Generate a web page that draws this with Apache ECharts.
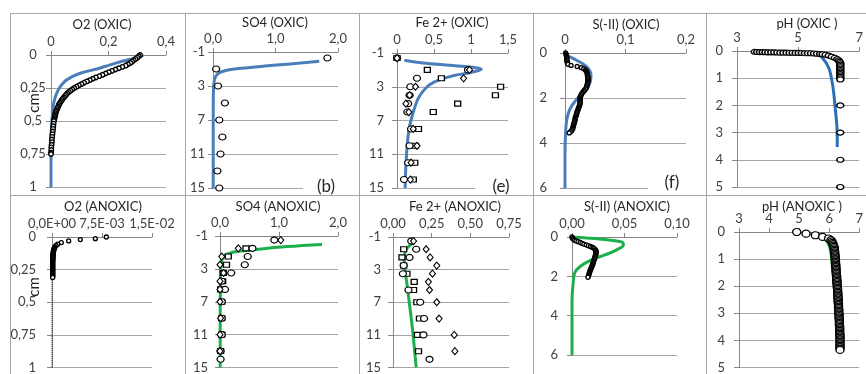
<!DOCTYPE html>
<html><head><meta charset="utf-8">
<script src="https://cdn.jsdelivr.net/npm/echarts@6/dist/echarts.min.js"></script>
<style>html,body{margin:0;padding:0;background:#fff}#c{width:866px;height:374px}</style>
</head><body><div id="c"></div>
<script>
// ---------------- DATA ([depth cm, value] pairs or depth/value lists) ----------------
// Panel O2 OXIC
const o2OxicMeasured = [[0,0.310],[0.01,0.305],[0.02,0.300],[0.03,0.294],[0.04,0.288],[0.05,0.282],[0.06,0.276],[0.07,0.268],[0.08,0.260],[0.09,0.248],[0.10,0.236],[0.11,0.224],[0.12,0.212],[0.13,0.201],[0.14,0.190],[0.15,0.179],[0.16,0.168],[0.17,0.156],[0.18,0.145],[0.19,0.135],[0.20,0.125],[0.21,0.115],[0.22,0.106],[0.23,0.097],[0.24,0.089],[0.25,0.081],[0.26,0.074],[0.27,0.068],[0.28,0.062],[0.29,0.057],[0.30,0.053],[0.31,0.049],[0.32,0.045],[0.33,0.041],[0.34,0.038],[0.35,0.035],[0.36,0.032],[0.37,0.029],[0.38,0.027],[0.39,0.025],[0.40,0.023],[0.41,0.021],[0.42,0.019],[0.43,0.0175],[0.44,0.016],[0.45,0.015],[0.46,0.014],[0.47,0.013],[0.48,0.012],[0.49,0.011],[0.50,0.010],[0.52,0.009],[0.54,0.008],[0.56,0.007],[0.58,0.006],[0.60,0.005],[0.62,0.004],[0.64,0.003],[0.66,0.003],[0.68,0.002],[0.70,0.001],[0.72,0.001],[0.74,0.000],[0.75,0.000]];
const o2OxicModel = [[0,0.322],[0.02,0.300],[0.04,0.262],[0.06,0.228],[0.08,0.198],[0.10,0.168],[0.12,0.132],[0.14,0.100],[0.16,0.077],[0.18,0.061],[0.20,0.048],[0.25,0.029],[0.30,0.018],[0.35,0.011],[0.40,0.007],[0.50,0.003],[0.60,0.001],[0.80,0],[1.00,0]];
// Panel (b) SO4 OXIC
const so4OxicDepth = [-0.3,1,3,5,7,9,11,13,15];
const so4OxicMeasured = [1.83,0.05,0.08,0.19,0.10,0.15,0.12,0.07,0.10];
const so4OxicModel = [[0.1,1.70],[0.3,1.40],[0.5,1.07],[0.7,0.76],[0.9,0.47],[1.1,0.26],[1.3,0.15],[1.5,0.09],[1.75,0.055],[2,0.035],[2.5,0.018],[3,0.01],[5,0.004],[15,0.003]];
// Panel (e) Fe2+ OXIC
const feOxicDepth = [-0.4,1,2,3,4,5,6,8,10,12,14];
const feOxicCircle = [0,0.96,0.27,0.18,0.17,0.15,0.14,0.19,0.17,0.15,0.095];
const feOxicDiamond = [0,0.98,0.90,0.25,0.17,0.12,0.16,0.22,0.27,0.19,0.18];
const feOxicSquare = [0,0.41,0.60,1.40,1.33,0.82,0.49,0.29,0.25,0.24,0.22];
const feOxicModel = [[-0.13,0.10],[0.19,0.35],[0.46,0.71],[0.70,1.03],[0.90,1.14],[1.10,1.09],[1.37,0.96],[1.69,0.76],[2.16,0.58],[2.75,0.44],[3.55,0.35],[4.5,0.28],[5.7,0.23],[7.7,0.17],[9.7,0.14],[12.4,0.12],[15,0.11]];
// Panel (f) S(-II) OXIC
const sOxicMeasured = [[0,0.001],[0.05,0.002],[0.10,0.002],[0.15,0.003],[0.20,0.003],[0.25,0.003],[0.30,0.003],[0.35,0.003],[0.40,0.004],[0.45,0.004],[0.50,0.005],[0.55,0.010],[0.60,0.020],[0.65,0.027],[0.70,0.031],[0.75,0.034],[0.80,0.035],[0.85,0.036],[0.90,0.037],[0.95,0.037],[1.00,0.037],[1.05,0.038],[1.10,0.038],[1.15,0.038],[1.20,0.038],[1.25,0.038],[1.30,0.038],[1.35,0.037],[1.40,0.037],[1.45,0.036],[1.50,0.036],[1.55,0.035],[1.60,0.034],[1.65,0.032],[1.70,0.031],[1.75,0.029],[1.80,0.028],[1.85,0.027],[1.90,0.026],[1.95,0.025],[2.00,0.025],[2.05,0.025],[2.10,0.025],[2.15,0.025],[2.20,0.025],[2.25,0.025],[2.30,0.024],[2.35,0.024],[2.40,0.023],[2.45,0.022],[2.50,0.022],[2.55,0.021],[2.60,0.020],[2.65,0.020],[2.70,0.019],[2.75,0.019],[2.80,0.018],[2.85,0.017],[2.90,0.017],[2.95,0.017],[3.00,0.016],[3.05,0.016],[3.10,0.015],[3.15,0.015],[3.20,0.014],[3.25,0.014],[3.30,0.013],[3.35,0.013],[3.40,0.012],[3.45,0.011],[3.50,0.009],[3.55,0.007]];
const sOxicModel = [[0,0],[0.1,0.003],[0.32,0.019],[0.61,0.036],[0.98,0.043],[1.34,0.041],[1.7,0.033],[2.07,0.019],[2.5,0.008],[2.95,0.003],[3.53,0.001],[4.5,0],[6,0]];
// Panel pH OXIC
const phOxicMeasured = [[0.03,3.58],[0.035,3.66],[0.04,3.75],[0.04,3.84],[0.045,3.93],[0.05,4.02],[0.05,4.12],[0.05,4.22],[0.055,4.32],[0.06,4.42],[0.06,4.52],[0.06,4.62],[0.065,4.72],[0.065,4.82],[0.07,4.92],[0.07,5.02],[0.075,5.12],[0.08,5.22],[0.08,5.32],[0.085,5.42],[0.09,5.52],[0.10,5.62],[0.11,5.72],[0.12,5.8],[0.14,5.9],[0.17,6.0],[0.21,6.1],[0.25,6.2],[0.30,6.28],[0.35,6.33],[0.40,6.36],[0.45,6.38],[0.50,6.38],[0.55,6.38],[0.60,6.38],[0.65,6.38],[0.70,6.38],[0.75,6.38],[0.80,6.38],[0.85,6.38],[0.90,6.38],[0.95,6.38],[1.00,6.38],[1.05,6.38],[2,6.38],[3,6.38],[4,6.38],[5,6.38]];
const phOxicModel = [[0.1,5.55],[0.2,5.75],[0.32,5.84],[0.5,5.95],[0.71,6.03],[1.0,6.09],[1.32,6.14],[1.7,6.18],[2.06,6.21],[2.5,6.25],[2.8,6.27],[3.2,6.28],[3.53,6.28]];
// Panel O2 ANOXIC
const o2AnoxMeasured = [[0,0.00815],[0.0125,0.0065],[0.02,0.00425],[0.03,0.0025],[0.0425,0.0014],[0.055,0.00085],[0.065,0.0006],[0.075,0.00045],[0.08,0.0004],[0.085,0.00035],[0.09,0.0003],[0.095,0.0003],[0.10,0.00025],[0.105,0.00025],[0.11,0.0002],[0.115,0.0002],[0.12,0.0002],[0.125,0.0002],[0.13,0.00015],[0.135,0.00015],[0.14,0.00015],[0.145,0.00015],[0.15,0.00015],[0.155,0.00015],[0.16,0.00012],[0.165,0.00012],[0.17,0.00012],[0.175,0.00012],[0.18,0.0001],[0.185,0.0001],[0.19,0.0001],[0.195,0.0001],[0.20,0.0001],[0.205,0.0001],[0.21,0.0001],[0.215,0.0001],[0.22,0.0001],[0.225,0.0001],[0.23,0.0001],[0.235,0.0001],[0.24,0.0001],[0.245,0.0001],[0.25,0.0001],[0.255,0.0001],[0.26,0.0001],[0.265,0.0001],[0.27,0.0001],[0.275,0.0001],[0.28,0.0001],[0.285,0.0001],[0.29,0.0001],[0.295,0.0001],[0.30,0.0001],[0.305,0.0001],[0.31,0.0001]];
const o2AnoxModel = [[0.3,0],[1,0]];
// Panel SO4 ANOXIC
const so4AnoxDepth = [-0.5,0.5,1.5,2.5,3.5,4.5,5.5,7,9,11,13,14];
const so4AnoxCircle = [0.92,0.55,0.47,0.42,0.19,0.03,0.085,0.03,0.03,0.03,0.01,0.01];
const so4AnoxDiamond = [1.03,0.31,0.03,0.0,0.06,0.0,0.0,0.0,0.01,0.0,0.0,null];
const so4AnoxSquare = [null,0.44,0.14,0.11,0.056,0.045,0.01,0.03,0.03,0.03,0.01,null];
const so4AnoxModel = [[0.02,1.73],[0.29,1.13],[0.69,0.56],[0.88,0.28],[1.16,0.14],[1.47,0.056],[2.06,0.028],[3.24,0.011],[6,0.005],[10,0.003],[15,0.003]];
// Panel Fe2+ ANOXIC
const feAnoxDepth = [-0.5,0.5,1.5,2.5,3.5,4.5,5.5,7,9,11,13,14];
const feAnoxCircle = [0.118,0.15,0.107,0.069,0.064,null,0.10,0.176,0.201,0.197,null,0.236];
const feAnoxDiamond = [0.133,0.214,0.24,0.283,0.255,0.229,0.236,0.283,0.298,0.396,0.40,null];
const feAnoxSquare = [null,0.069,0.058,0.069,0.09,0.137,0.133,0.154,0.171,0.158,0.165,null];
const feAnoxModel = [[-0.6,0.143],[-0.41,0.137],[0.19,0.10],[0.78,0.079],[1.96,0.073],[4.73,0.09],[7.9,0.111],[10.66,0.128],[15,0.15]];
// Panel S(-II) ANOXIC
const sAnoxMeasured = [[0,0],[0.04,0.0003],[0.08,0.0007],[0.12,0.0013],[0.16,0.0025],[0.20,0.004],[0.24,0.0058],[0.28,0.0078],[0.32,0.0095],[0.36,0.0113],[0.40,0.0135],[0.44,0.0155],[0.48,0.0175],[0.52,0.019],[0.56,0.0205],[0.60,0.0215],[0.65,0.0222],[0.70,0.0228],[0.75,0.023],[0.80,0.023],[0.85,0.0228],[0.90,0.0225],[0.95,0.0222],[1.00,0.022],[1.05,0.0217],[1.10,0.0214],[1.15,0.0211],[1.20,0.0208],[1.25,0.0205],[1.30,0.0202],[1.35,0.020],[1.40,0.0197],[1.45,0.0193],[1.50,0.0189],[1.55,0.0185],[1.60,0.0181],[1.65,0.0177],[1.70,0.0173],[1.75,0.017],[1.80,0.0167],[1.85,0.0164],[1.90,0.0161],[1.95,0.0158],[2.00,0.0155],[2.05,0.0152]];
const sAnoxModel = [[0,0],[0.05,0.014],[0.14,0.033],[0.25,0.047],[0.39,0.049],[0.64,0.043],[0.9,0.032],[1.15,0.019],[1.49,0.008],[1.83,0.0025],[2.42,0.001],[3.27,0],[6,0]];
// Panel pH ANOXIC
const phAnoxMeasured = [[0,4.92],[0.06,5.23],[0.12,5.54],[0.18,5.78],[0.24,5.98],[0.30,6.06],[0.35,6.09],[0.40,6.11],[0.45,6.13],[0.50,6.14],[0.55,6.16],[0.60,6.17],[0.65,6.17],[0.70,6.18],[0.75,6.18],[0.80,6.19],[0.85,6.19],[0.90,6.20],[0.95,6.20],[1.00,6.20],[1.05,6.21],[1.10,6.21],[1.15,6.21],[1.20,6.22],[1.25,6.22],[1.30,6.22],[1.35,6.23],[1.40,6.23],[1.45,6.23],[1.50,6.24],[1.55,6.24],[1.60,6.24],[1.65,6.25],[1.70,6.25],[1.75,6.25],[1.80,6.26],[1.85,6.26],[1.90,6.26],[1.95,6.27],[2.00,6.27],[2.05,6.27],[2.10,6.28],[2.15,6.28],[2.20,6.28],[2.25,6.29],[2.30,6.29],[2.35,6.29],[2.40,6.29],[2.45,6.30],[2.50,6.30],[2.55,6.30],[2.60,6.30],[2.65,6.31],[2.70,6.31],[2.75,6.31],[2.80,6.31],[2.85,6.32],[2.90,6.32],[2.95,6.32],[3.00,6.32],[3.05,6.33],[3.10,6.33],[3.15,6.33],[3.20,6.33],[3.25,6.34],[3.30,6.34],[3.35,6.34],[3.40,6.34],[3.45,6.34],[3.50,6.35],[3.55,6.35],[3.60,6.35],[3.65,6.35],[3.70,6.35],[3.75,6.35],[3.80,6.36],[3.85,6.36],[3.90,6.36],[3.95,6.36],[4.00,6.36],[4.05,6.36],[4.10,6.36],[4.15,6.36],[4.20,6.36],[4.25,6.36],[4.30,6.36],[4.35,6.36]];
const phAnoxModel = [[0.15,5.72],[0.3,5.9],[0.5,6.0],[0.8,6.06],[1.2,6.1],[1.6,6.14],[2.0,6.17],[2.5,6.2],[3.0,6.23],[3.5,6.26]];

// Tick labels
const o2OxicXTicks = ['0','0,2','0,4'];
const depthCmTicks = ['0','0,25','0,5','0,75','1'];
const so4XTicks = ['0,0','1,0','2,0'];
const depthLongTicks = ['-1','3','7','11','15'];
const feOxicXTicks = ['0','0,5','1','1,5'];
const sOxicXTicks = ['0','0,1','0,2'];
const depthSTicks = ['0','2','4','6'];
const phOxicXTicks = ['3','5','7'];
const depthPhTicks = ['0','1','2','3','4','5'];
const o2AnoxXTicks = ['0,0E+00','7,5E-03','1,5E-02'];
const feAnoxXTicks = ['0,00','0,25','0,50','0,75'];
const sAnoxXTicks = ['0,00','0,05','0,10'];
const phAnoxXTicks = ['3','4','5','6','7'];

// Titles
const titles = ['O2 (OXIC)','SO4 (OXIC)','Fe 2+ (OXIC)','S(-II) (OXIC)','pH (OXIC )','O2 (ANOXIC)','SO4 (ANOXIC)','Fe 2+ (ANOXIC)','S(-II) (ANOXIC)','pH (ANOXIC )'];

// ---------------- STYLE / LAYOUT ----------------
const FONT = 'Lato';
const TXT = '#404040';
const AXIS = '#868686';
const GRIDC = '#a6a6a6';
const BLUE = '#4a7ebb';
const BLUE2 = '#2a6fb8';
const GREEN = '#1cb04c';

const panels = [
  {g:{left:51,top:55,width:115,height:132}, x:[0,0.4,0.2,o2OxicXTicks], y:[0,1,0.25,depthCmTicks], ya:'center', ym:18, t:[102,25]},
  {g:{left:213,top:52,width:125,height:136}, x:[0,2,1,so4XTicks], y:[-1,15,4,depthLongTicks], ya:'right', ym:8, t:[275,23]},
  {g:{left:397,top:53,width:111,height:135}, x:[0,1.5,0.5,feOxicXTicks], y:[-1,15,4,depthLongTicks], ya:'right', ym:13, t:[452,23]},
  {g:{left:565,top:53,width:121,height:135}, x:[0,0.2,0.1,sOxicXTicks], y:[0,6,2,depthSTicks], ya:'right', ym:18, t:[626,25]},
  {g:{left:737,top:51,width:125,height:136}, x:[3,7,2,phOxicXTicks], y:[0,5,1,depthPhTicks], ya:'right', ym:14, t:[807,24]},
  {g:{left:52,top:237,width:100,height:134}, x:[0,0.015,0.0075,o2AnoxXTicks], y:[0,1,0.25,depthCmTicks], ya:'right', ym:16, t:[103,207]},
  {g:{left:220,top:236,width:118,height:136}, x:[0,2,1,so4XTicks], y:[-1,15,4,depthLongTicks], ya:'right', ym:12, t:[278,207]},
  {g:{left:393,top:237,width:116,height:135}, x:[0,0.75,0.25,feAnoxXTicks], y:[-1,15,4,depthLongTicks], ya:'right', ym:12, t:[455,207]},
  {g:{left:572,top:237,width:105,height:118}, x:[0,0.1,0.05,sAnoxXTicks], y:[0,6,2,depthSTicks], ya:'right', ym:14, t:[627,207]},
  {g:{left:739,top:232,width:121,height:138}, x:[3,7,1,phAnoxXTicks], y:[0,5,1,depthPhTicks], ya:'right', ym:14, t:[802,207]}
];

function tickVals(min, interval, labels){ return labels.map((_, i) => +(min + i*interval).toFixed(6)); }
function fmt(min, interval, labels){ return v => labels[Math.round((v-min)/interval)] ?? ''; }

const xAxes = panels.map((p, i) => {
  const [min,max,itv,lab] = p.x; const vals = tickVals(min,itv,lab);
  return {type:'value', gridIndex:i, position:'top', min, max, interval:itv,
    axisLine:{show:true, onZero:false, lineStyle:{color:AXIS,width:1}},
    axisTick:{show:true, inside:false, length:4, customValues:vals, lineStyle:{color:AXIS}},
    axisLabel:{customValues:vals, margin:7, color:TXT, fontFamily:FONT, fontSize:13, formatter:fmt(min,itv,lab), hideOverlap:false, showMinLabel:true, showMaxLabel:true},
    splitLine:{show:false}};
});
const yAxes = panels.map((p, i) => {
  const [min,max,itv,lab] = p.y; const vals = tickVals(min,itv,lab);
  return {type:'value', gridIndex:i, inverse:true, min, max, interval:itv,
    axisLine:{show:true, onZero:false, lineStyle:{color:AXIS,width:1}},
    axisTick:{show:true, inside:false, length:5, customValues:vals, lineStyle:{color:AXIS}},
    axisLabel:{customValues:vals, margin:p.ym, align:p.ya, color:TXT, fontFamily:FONT, fontSize:13, formatter:fmt(min,itv,lab), showMinLabel:true, showMaxLabel:true},
    splitLine:{show:true, lineStyle:{color:GRIDC,width:1.2}}};
});

function pts(pairs){ return pairs.map(d => [d[1], d[0]]); }
function zip(depths, vals){ const out=[]; depths.forEach((d,i)=>{ if(vals[i]!==null && vals[i]!==undefined) out.push([vals[i], d]); }); return out; }
function line(gi, data, color, width, smooth, type){
  return {type:'line', xAxisIndex:gi, yAxisIndex:gi, data, symbol:'none', showSymbol:false, smooth:smooth||false,
    lineStyle:{color, width, type:type||'solid'}, z:2, silent:true};
}
function scat(gi, data, symbol, size, bw){
  return {type:'scatter', xAxisIndex:gi, yAxisIndex:gi, data, symbol, symbolSize:size,
    itemStyle:{color:'#ffffff', borderColor:'#000000', borderWidth:bw||1, opacity:1}, z:3, silent:true};
}

const series = [
  line(0, pts(o2OxicModel), BLUE, 3, 0.4),
  scat(0, pts(o2OxicMeasured), 'circle', 4.5, 1.4),
  line(1, pts(so4OxicModel), BLUE, 3, 0.4),
  scat(1, zip(so4OxicDepth, so4OxicMeasured), 'circle', [7,6], 1.2),
  line(2, pts(feOxicModel), BLUE, 3, 0.35),
  scat(2, zip(feOxicDepth, feOxicSquare), 'rect', [6,5], 1.2),
  scat(2, zip(feOxicDepth, feOxicCircle), 'circle', [7,6], 1.2),
  scat(2, zip(feOxicDepth, feOxicDiamond), 'diamond', [6,7], 1.1),
  line(3, pts(sOxicModel), BLUE, 3, 0.4),
  scat(3, pts(sOxicMeasured), 'circle', 4, 1.3),
  line(4, pts(phOxicModel), BLUE2, 3, 0.4),
  scat(4, pts(phOxicMeasured), 'circle', [7,5], 1.3),
  line(5, pts(o2AnoxModel), '#222', 1, false, 'dotted'),
  scat(5, pts(o2AnoxMeasured), 'circle', 4, 1.3),
  line(6, pts(so4AnoxModel), GREEN, 3, 0.4),
  scat(6, zip(so4AnoxDepth, so4AnoxSquare), 'rect', [6,5], 1.2),
  scat(6, zip(so4AnoxDepth, so4AnoxCircle), 'circle', [7,6], 1.2),
  scat(6, zip(so4AnoxDepth, so4AnoxDiamond), 'diamond', [6,7], 1.1),
  line(7, pts(feAnoxModel), GREEN, 3, 0.4),
  scat(7, zip(feAnoxDepth, feAnoxSquare), 'rect', [6,5], 1.2),
  scat(7, zip(feAnoxDepth, feAnoxCircle), 'circle', [7,6], 1.2),
  scat(7, zip(feAnoxDepth, feAnoxDiamond), 'diamond', [6,7], 1.1),
  line(8, pts(sAnoxModel), GREEN, 3, 0.4),
  scat(8, pts(sAnoxMeasured), 'circle', 4, 1.3),
  line(9, pts(phAnoxModel), GREEN, 3, 0.4),
  scat(9, pts(phAnoxMeasured), 'circle', [8,7], 1.3)
];

// decorations: panel borders, titles, axis names, panel letters
const BORDER = '#a6a6a6';
const gfx = [];
[10.5,185.5,359.5,533.5,706.5].forEach(x => gfx.push({type:'line', shape:{x1:x,y1:13,x2:x,y2:374}, style:{stroke:BORDER, lineWidth:1}, z:20}));
[13.5,195.5].forEach(y => gfx.push({type:'line', shape:{x1:10,y1:y,x2:866,y2:y}, style:{stroke:BORDER, lineWidth:1}, z:20}));
panels.forEach((p,i) => gfx.push({type:'text', x:p.t[0], y:p.t[1], style:{text:titles[i], font:'13px '+FONT, fill:'#262626', align:'center', verticalAlign:'middle', textAlign:'center', textVerticalAlign:'middle'}, z:20}));
[[34,103],[34,287]].forEach(c => gfx.push({type:'text', x:c[0], y:c[1], rotation:Math.PI/2, style:{text:'cm', font:'15px '+FONT, fill:'#262626', align:'center', verticalAlign:'middle', textAlign:'center', textVerticalAlign:'middle'}, z:20}));
[[303,177,48,19,326,187,'(b)'],[475,177,55,19,501,187,'(e)'],[648,173,52,20,672,183,'(f)']].forEach(b => {
  gfx.push({type:'rect', shape:{x:b[0],y:b[1],width:b[2],height:b[3]}, style:{fill:'#ffffff'}, z:19});
  gfx.push({type:'text', x:b[4], y:b[5], style:{text:b[6], font:'17px '+FONT, fill:'#262626', align:'center', verticalAlign:'middle', textAlign:'center', textVerticalAlign:'middle'}, z:20});
});

const chart = echarts.init(document.getElementById('c'), null, {renderer:'canvas', width:866, height:374});
chart.setOption({
  animation:false,
  backgroundColor:'#ffffff',
  grid: panels.map(p => Object.assign({containLabel:false}, p.g)),
  xAxis: xAxes,
  yAxis: yAxes,
  series,
  graphic:{elements:gfx}
});
</script></body></html>
